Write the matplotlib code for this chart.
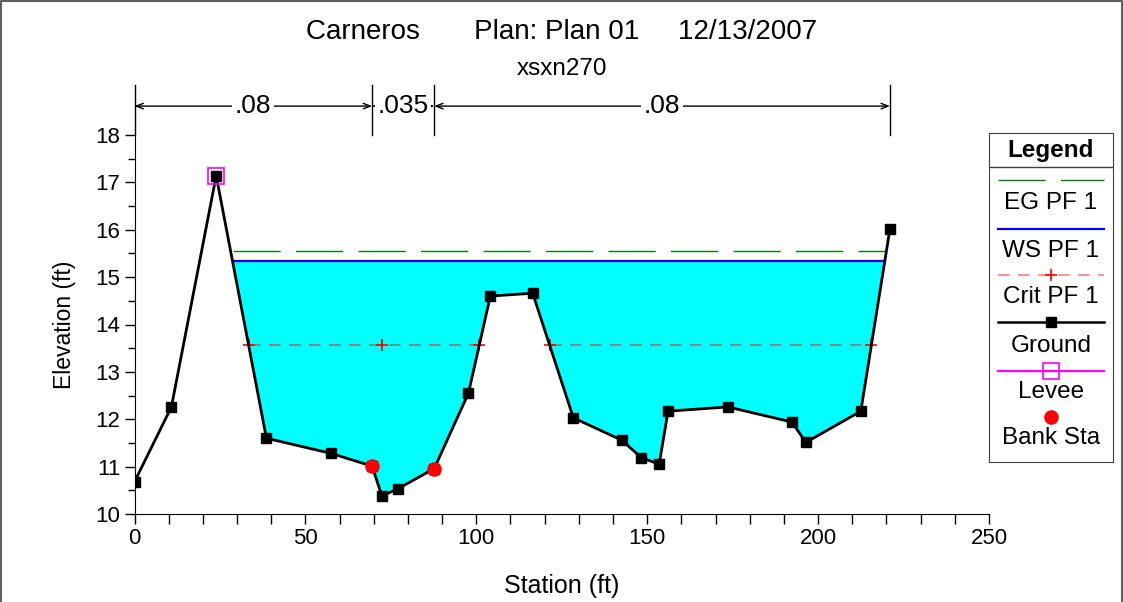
import numpy as np
import matplotlib.pyplot as plt

plt.rcParams['font.family'] = ['Liberation Sans', 'DejaVu Sans']

# ground survey points (station ft, elevation ft)
station = [0, 10.8, 23.9, 38.6, 57.5, 69.5, 72.4, 77.0, 87.7, 97.7, 104.1,
           116.5, 128.4, 142.5, 148.3, 153.5, 156.1, 173.6, 192.4, 196.4,
           212.5, 221.0]
ground = [10.68, 12.26, 17.14, 11.60, 11.28, 11.01, 10.38, 10.53, 10.96,
          12.55, 14.60, 14.66, 12.03, 11.56, 11.19, 11.05, 12.17, 12.26,
          11.94, 11.51, 12.17, 16.01]
levee_sta = [23.9]
levee_elev = [17.14]
bank_sta = [69.5, 87.7]
ws_elev = 15.34
eg_elev = 15.55
crit_elev = 13.57
n_breaks = [0, 69.5, 87.7, 221.0]
n_values = ['.08', '.035', '.08']

x = np.array(station)
z = np.array(ground)


def wet_spans(x, z, level):
    spans = []
    start = None
    for i in range(len(x) - 1):
        x0, x1, z0, z1 = x[i], x[i + 1], z[i], z[i + 1]
        if z0 >= level and z1 < level:
            start = x0 + (z0 - level) / (z0 - z1) * (x1 - x0)
        elif z0 < level and z1 >= level and start is not None:
            spans.append((start, x0 + (level - z0) / (z1 - z0) * (x1 - x0)))
            start = None
    return spans


fig = plt.figure(figsize=(11.23, 6.02), dpi=100)
ax = fig.add_axes([134.5 / 1123, 1 - 514 / 602, 854.5 / 1123, 379 / 602])

ws_spans = wet_spans(x, z, ws_elev)
for a, b in ws_spans:
    # water fill only inside the wetted span
    xs = np.concatenate([[a], x[(x > a) & (x < b)], [b]])
    zs = np.interp(xs, x, z)
    ax.fill_between(xs, zs, ws_elev, color='#00ffff', lw=0, zorder=1)
    ax.plot([a, b], [eg_elev, eg_elev], color='#008000', lw=1,
            dashes=(34, 11), zorder=2)
    ax.plot([a, b], [ws_elev, ws_elev], color='#0000ff', lw=1.6, zorder=3)

crit_spans = wet_spans(x, z, crit_elev)
thalweg = x[np.argmin(z)]
for a, b in crit_spans:
    ax.plot([a, b], [crit_elev, crit_elev], color='red', alpha=0.5, lw=1.2,
            dashes=(7, 5), zorder=2)
    pts = [a, b]
    if a < thalweg < b:
        pts.append(thalweg)
    ax.plot(pts, [crit_elev] * len(pts), ls='none', marker='+', color='red',
            ms=9, mew=1.2, zorder=4)

ax.plot(x, z, color='black', lw=2, marker='s', ms=7, zorder=5)
ax.plot(levee_sta, levee_elev, ls='none', marker='s', ms=11, mfc='none',
        mec='magenta', mew=1.2, zorder=6)
ax.plot(bank_sta, np.interp(bank_sta, x, z), ls='none', marker='o', ms=9.5,
        color='red', zorder=6)

ax.set_xlim(0, 250)
ax.set_ylim(10, 18)
ax.set_xticks(np.arange(0, 251, 50))
ax.set_xticks(np.arange(0, 251, 10), minor=True)
ax.set_yticks(np.arange(10, 19, 1))
ax.set_yticks(np.arange(10, 18.1, 0.5), minor=True)
ax.tick_params(labelsize=16, length=7, width=1, direction='out', pad=3)
ax.tick_params(which='minor', length=5, width=1)
ax.tick_params(axis='x', which='minor', length=7)
for s in ['top', 'right']:
    ax.spines[s].set_visible(False)
ax.set_xlabel('Station (ft)', fontsize=18, labelpad=18)
ax.set_ylabel('Elevation (ft)', fontsize=16.5, labelpad=14)

# Manning's n annotations
y_bar = 19.05
y_arr = 18.61
for xb in n_breaks:
    ax.plot([xb, xb], [18.0, y_bar], color='black', lw=1, clip_on=False)
for i, nv in enumerate(n_values):
    a, b = n_breaks[i], n_breaks[i + 1]
    ax.annotate('', xy=(b, y_arr), xytext=(a, y_arr), annotation_clip=False,
                arrowprops=dict(arrowstyle='<->,head_length=0.5,head_width=0.2',
                                lw=1, shrinkA=0, shrinkB=0, color='black'))
    ax.text((a + b) / 2, y_arr, nv, ha='center', va='center', fontsize=19,
            clip_on=False,
            bbox=dict(boxstyle='square,pad=0.1', fc='white', ec='none'))

fig.text(0.5, 1 - 32 / 602, 'Carneros       Plan: Plan 01     12/13/2007',
         ha='center', va='center', fontsize=20)
fig.text(0.5, 1 - 69 / 602, 'xsxn270', ha='center', va='center', fontsize=17.5)

# legend box
lax = fig.add_axes([989 / 1123, 1 - 462 / 602, 124 / 1123, 329 / 602])
lax.set_xlim(0, 1)
lax.set_ylim(462, 133)
lax.set_xticks([])
lax.set_yticks([])
for s in lax.spines.values():
    s.set_color('#404040')
lfs = 17.5
lax.plot([0, 1], [167, 167], color='#404040', lw=1)
lax.text(0.5, 150, 'Legend', ha='center', va='center', fontsize=lfs,
         fontweight='bold')
lx = [0.07, 0.5, 0.93]
lax.plot([0.07, 0.93], [180, 180], color='#008000', lw=1, dashes=(34, 11))
lax.text(0.5, 203, 'EG PF 1', ha='center', va='center', fontsize=lfs)
lax.plot([0.07, 0.93], [229, 229], color='#0000ff', lw=1.6)
lax.text(0.5, 251, 'WS PF 1', ha='center', va='center', fontsize=lfs)
lax.plot([0.07, 0.93], [275, 275], color='red', alpha=0.5, lw=1.2,
         dashes=(7, 5))
lax.plot([0.5], [275], marker='+', color='red', ms=9, mew=1.2)
lax.text(0.5, 297, 'Crit PF 1', ha='center', va='center', fontsize=lfs)
lax.plot(lx, [322] * 3, color='black', lw=1.8, marker='s', ms=7,
         markevery=[1])
lax.text(0.5, 346, 'Ground', ha='center', va='center', fontsize=lfs)
lax.plot(lx, [371] * 3, color='magenta', lw=1.6, marker='s', ms=11,
         mfc='none', mec='magenta', mew=1.2, markevery=[1])
lax.text(0.5, 392, 'Levee', ha='center', va='center', fontsize=lfs)
lax.plot([0.5], [417], marker='o', ms=9.5, color='red', ls='none')
lax.text(0.5, 438, 'Bank Sta', ha='center', va='center', fontsize=lfs)

# outer border
fig.add_artist(plt.Line2D([0.001, 0.001, 0.999, 0.999], [0, 0.999, 0.999, 0],
                          transform=fig.transFigure, color='#606060', lw=1.5))

fig.savefig('out.png', dpi=100)
